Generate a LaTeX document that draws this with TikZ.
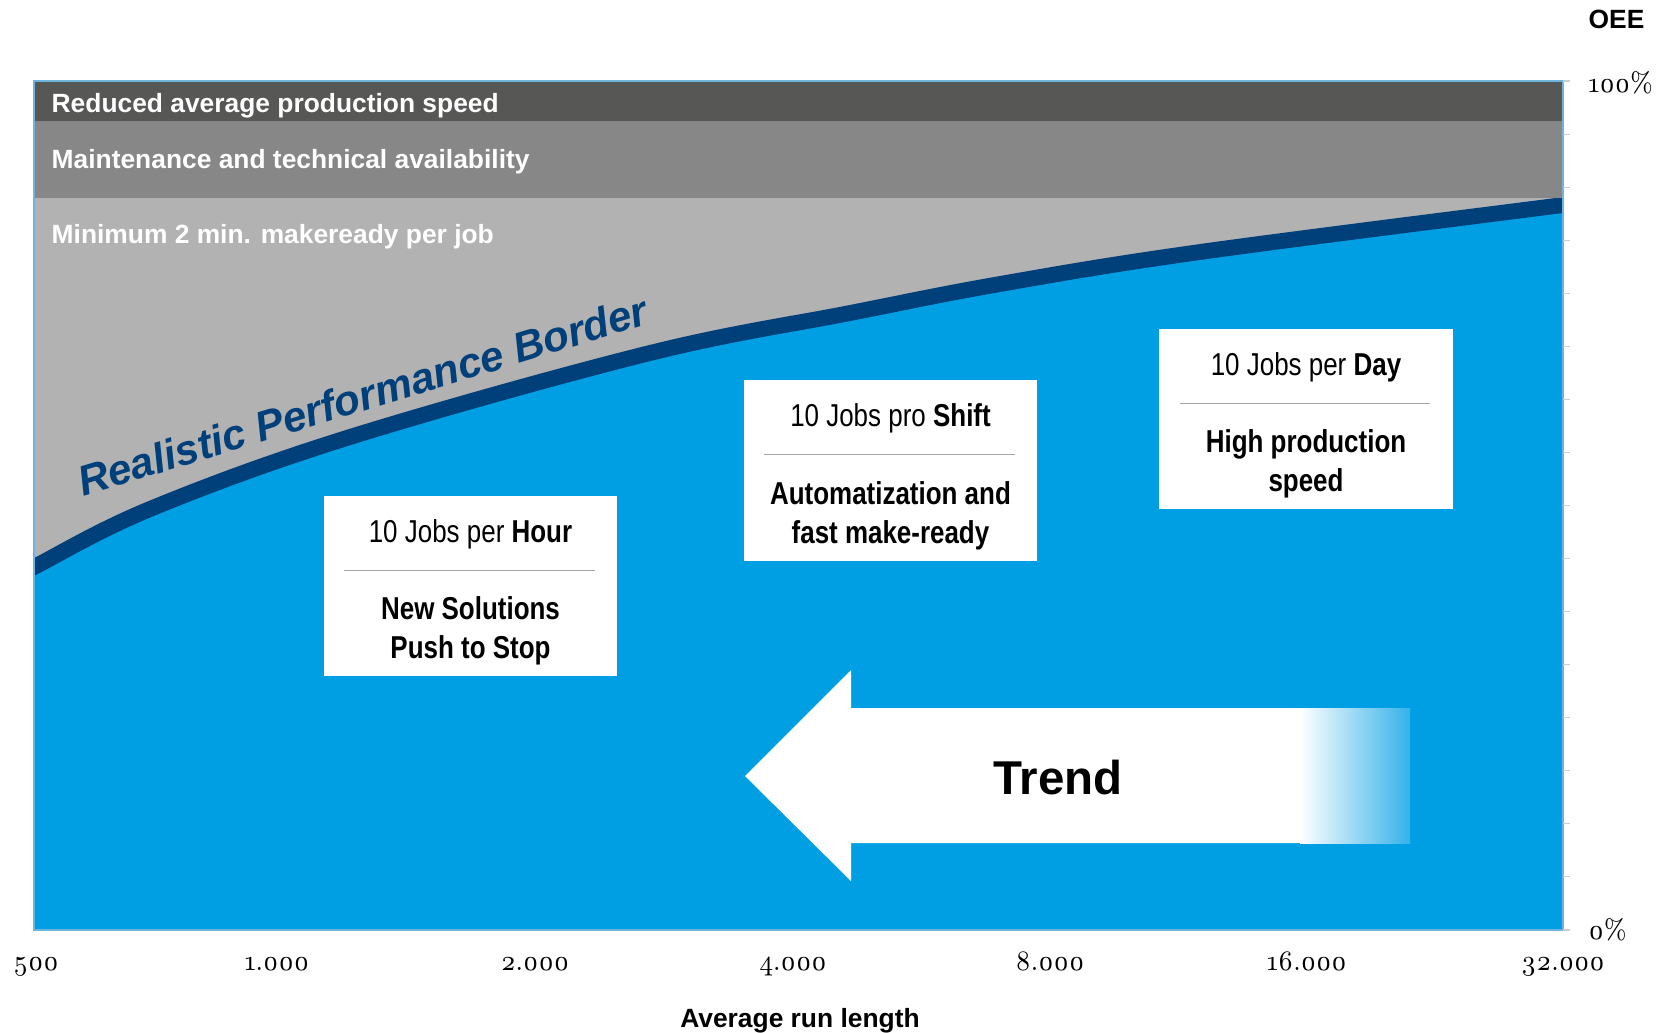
\documentclass[tikz,border=0pt]{standalone}
\usepackage{fontspec}
\usepackage{tikz}
\usetikzlibrary{
    positioning,
    calc
}
\newfontfamily\arialfont{Liberation Sans}
\newfontfamily\narrowfont[FakeStretch=0.82]{Liberation Sans}
\newfontfamily\oldnumfont[Numbers=OldStyle, FakeStretch=0.9]{Latin Modern Roman}
\definecolor{bandDark}{RGB}{87, 87, 86}
\definecolor{bandMid}{RGB}{135, 135, 135}
\definecolor{bandLight}{RGB}{178, 178, 178}
\definecolor{oeeBlue}{RGB}{0, 159, 227}
\definecolor{borderBlue}{RGB}{0, 64, 122}
\definecolor{frameBlue}{RGB}{110, 180, 220}

\begin{document}
\begin{tikzpicture}[x=0.01cm, y=-0.01cm,
    bandtext/.style={anchor=base west, inner sep=0pt, text=white,
        font=\arialfont\bfseries\fontsize{7.5}{9}\selectfont},
    jobbox/.style={fill=white, inner sep=0pt, minimum width=2.93cm, minimum height=1.80cm},
    jobtitle/.style={anchor=base, inner sep=0pt, font=\narrowfont\fontsize{9}{11.1}\selectfont},
    jobtext/.style={anchor=center, inner sep=0pt, align=center,
        font=\narrowfont\bfseries\fontsize{9}{11.1}\selectfont},
    sepline/.style={draw=gray!70, line width=0.35pt},
    axislabel/.style={anchor=base, inner sep=0pt, font=\oldnumfont\fontsize{8}{10}\selectfont},
    axistick/.style={draw=gray!40, line width=0.3pt}]
        \useasboundingbox (0, 0) rectangle (1667, 1032);
        \coordinate (PlotNW) at (34, 81);
        \coordinate (PlotSE) at (1563, 930);

        % Areas
        \fill[bandLight] (34, 198) rectangle (PlotSE);
        \begin{scope}
            \clip (PlotNW) rectangle (PlotSE);
            \fill[oeeBlue] plot[smooth, tension=0.6] coordinates {(20, 574) (34, 567) (150, 509) (350, 437)
                (650, 353) (850, 313) (1000, 284) (1200, 252) (1563, 205) (1580, 203)}
                -- (1580, 940) -- (20, 940) -- cycle;
            \draw[borderBlue, line width=4.5pt] plot[smooth, tension=0.6] coordinates {(20, 574) (34, 567)
                (150, 509) (350, 437) (650, 353) (850, 313) (1000, 284) (1200, 252) (1563, 205) (1580, 203)};
        \end{scope}
        \fill[bandMid] (34, 121) rectangle (1563, 198);
        \fill[bandDark] (PlotNW) rectangle (1563, 121);
        \draw[frameBlue, line width=0.4pt] (PlotNW) rectangle (PlotSE);

        % Band labels
        \node[bandtext] (speedlabel) at (51, 112) {Reduced average production speed};
        \node[bandtext] (maintlabel) at (51, 168) {Maintenance and technical availability};
        \node[bandtext] (makereadylabel) at (51, 243) {Minimum 2 min. makeready per job};

        % Border line label
        \node[anchor=base, inner sep=0pt, rotate=17, text=borderBlue,
            font=\arialfont\bfseries\itshape\fontsize{12}{14}\selectfont]
            (bordertitle) at (367, 410) {Realistic Performance Border};

        % Boxes
        \node[jobbox] (hourbox) at (470.5, 586) {};
        \node[jobtitle] (hourtitle) at ($(hourbox.north)+(0, 47)$) {10 Jobs per \textbf{Hour}};
        \draw[sepline] ($(hourbox.north west)+(21, 75)$) -- ($(hourbox.north east)+(-23, 75)$);
        \node[jobtext] (hourtext) at ($(hourbox.north)+(0, 136)$) {New Solutions\\Push to Stop};

        \node[jobbox] (shiftbox) at (890.5, 470.5) {};
        \node[jobtitle] (shifttitle) at ($(shiftbox.north)+(0, 47)$) {10 Jobs pro \textbf{Shift}};
        \draw[sepline] ($(shiftbox.north west)+(21, 75)$) -- ($(shiftbox.north east)+(-23, 75)$);
        \node[jobtext] (shifttext) at ($(shiftbox.north)+(0, 136)$) {Automatization and\\fast make-ready};

        \node[jobbox] (daybox) at (1306, 419) {};
        \node[jobtitle] (daytitle) at ($(daybox.north)+(0, 47)$) {10 Jobs per \textbf{Day}};
        \draw[sepline] ($(daybox.north west)+(21, 75)$) -- ($(daybox.north east)+(-23, 75)$);
        \node[jobtext] (daytext) at ($(daybox.north)+(0, 136)$) {High production\\speed};

        % Trend arrow
        \fill[white] (745, 776) -- (851, 670) -- (851, 708) -- (1301, 708) -- (1301, 843)
            -- (851, 843) -- (851, 881) -- cycle;
        \shade[left color=white, right color=oeeBlue!80!white] (1300, 708) rectangle (1410, 843);
        \node[anchor=base, inner sep=0pt, font=\arialfont\bfseries\fontsize{13.5}{16}\selectfont]
            (trendlabel) at (1058, 794) {Trend};

        % Right axis
        \foreach \k in {0, ..., 16}
            \draw[axistick] (1563, {81+\k*53.06}) -- ++(7, 0);
        \node[anchor=base west, inner sep=0pt, font=\arialfont\bfseries\fontsize{7.5}{9}\selectfont]
            (oeelabel) at (1588, 28) {OEE};
        \node[anchor=base west, inner sep=0pt, font=\oldnumfont\fontsize{8}{10}\selectfont]
            (toplabel) at (1588, 92) {100\%};
        \node[anchor=base west, inner sep=0pt, font=\oldnumfont\fontsize{8}{10}\selectfont]
            (bottomlabel) at (1588, 939) {0\%};

        % Bottom axis
        \foreach \xpos/\lab [count=\i] in {36/500, 277/1.000, 535/2.000, 793/4.000,
                1050/8.000, 1307/16.000, 1563/32.000}
            \node[axislabel] (xlab\i) at (\xpos, 970) {\lab};
        \node[anchor=base, inner sep=0pt, font=\arialfont\bfseries\fontsize{7.5}{9}\selectfont]
            (xaxistitle) at (800, 1027) {Average run length};
    \end{tikzpicture}
\end{document}
